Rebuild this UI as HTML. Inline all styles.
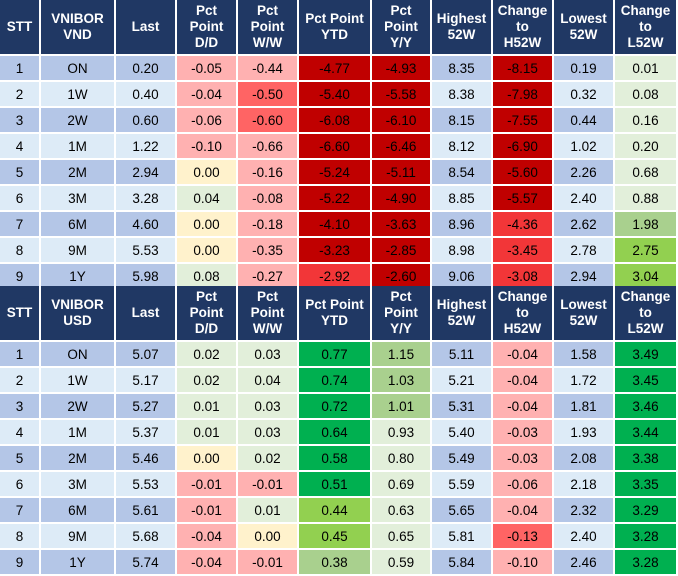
<!DOCTYPE html>
<html><head><meta charset="utf-8"><style>
body{margin:0;width:678px;height:576px;background:#fff;position:relative;overflow:hidden;font-family:"Liberation Sans",Arial,sans-serif}
.c{position:absolute;display:flex;align-items:center;justify-content:center;text-align:center;font-size:13.5px;color:#000;box-sizing:border-box}
.h{background:#203864;color:#fff;font-weight:bold;font-size:13.5px;line-height:16px}
</style></head><body>
<div id="t"></div>
<script>
const colEdges=[0,41,116,177,238,299,372,432,493,554,615,678];
const hdrVND=["STT","VNIBOR<br>VND","Last","Pct<br>Point<br>D/D","Pct<br>Point<br>W/W","Pct Point<br>YTD","Pct<br>Point<br>Y/Y","Highest<br>52W","Change<br>to<br>H52W","Lowest<br>52W","Change<br>to<br>L52W"];
const hdrUSD=hdrVND.slice();hdrUSD[1]="VNIBOR<br>USD";
const tenors=["ON","1W","2W","1M","2M","3M","6M","9M","1Y"];
const vnd=[
["0.20","-0.05","-0.44","-4.77","-4.93","8.35","-8.15","0.19","0.01"],
["0.40","-0.04","-0.50","-5.40","-5.58","8.38","-7.98","0.32","0.08"],
["0.60","-0.06","-0.60","-6.08","-6.10","8.15","-7.55","0.44","0.16"],
["1.22","-0.10","-0.66","-6.60","-6.46","8.12","-6.90","1.02","0.20"],
["2.94","0.00","-0.16","-5.24","-5.11","8.54","-5.60","2.26","0.68"],
["3.28","0.04","-0.08","-5.22","-4.90","8.85","-5.57","2.40","0.88"],
["4.60","0.00","-0.18","-4.10","-3.63","8.96","-4.36","2.62","1.98"],
["5.53","0.00","-0.35","-3.23","-2.85","8.98","-3.45","2.78","2.75"],
["5.98","0.08","-0.27","-2.92","-2.60","9.06","-3.08","2.94","3.04"]];
const vndCol=[
"_PPDD_D_L","_PRDD_D_L","_PRDD_D_L","_PPDD_D_L","_YPDD_D_L","_LPDD_D_L","_YPDD_M_A","_YPDD_M_Q","_LPMD_M_Q"];
const usd=[
["5.07","0.02","0.03","0.77","1.15","5.11","-0.04","1.58","3.49"],
["5.17","0.02","0.04","0.74","1.03","5.21","-0.04","1.72","3.45"],
["5.27","0.01","0.03","0.72","1.01","5.31","-0.04","1.81","3.46"],
["5.37","0.01","0.03","0.64","0.93","5.40","-0.03","1.93","3.44"],
["5.46","0.00","0.02","0.58","0.80","5.49","-0.03","2.08","3.38"],
["5.53","-0.01","-0.01","0.51","0.69","5.59","-0.06","2.18","3.35"],
["5.61","-0.01","0.01","0.44","0.63","5.65","-0.04","2.32","3.29"],
["5.68","-0.04","0.00","0.45","0.65","5.81","-0.13","2.40","3.28"],
["5.74","-0.04","-0.01","0.38","0.59","5.84","-0.10","2.46","3.28"]];
const usdCol=["_LLGA_P_G","_LLGA_P_G","_LLGA_P_G","_LLGL_P_G","_YLGL_P_G","_PPGL_P_G","_PLQL_P_G","_PYQL_R_G","_PPAL_P_G"];
const pal={P:"#ffb1b1",R:"#ff6464",D:"#c00000",M:"#f23638",Y:"#fff2cc",L:"#e2efda",G:"#00b050",Q:"#92d050",A:"#a9d08e"};
const T=document.getElementById('t');
function cell(x0,x1,y,h,html,cls,bg,name){
 const d=document.createElement('div');
 d.className='c '+cls;
 
 
 d.style.left=x0+'px';d.style.width=(x1-x0-2)+'px';d.style.top=y+'px';d.style.height=h+'px';
 if(bg)d.style.background=bg;
 d.innerHTML=html;T.appendChild(d);
}
function block(top,hdr,data,cols,tag){
 for(let c=0;c<11;c++)cell(colEdges[c],colEdges[c+1],top,54,hdr[c],'h',null,tag+'-header-cell');
 for(let r=0;r<9;r++){
  const y=top+56+26*r;const rb=r%2==0?"#b4c6e7":"#ddebf7";
  const vals=[String(r+1),tenors[r]].concat(data[r]);
  for(let c=0;c<11;c++){
   let bg=rb;
   if(c>=2){const k=cols[r][c-2];if(pal[k])bg=pal[k];}
   cell(colEdges[c],colEdges[c+1],y,24,vals[c],'',bg,tag+'-data-cell');
  }
 }
}
block(0,hdrVND,vnd,vndCol,'vnd');
block(286,hdrUSD,usd,usdCol,'usd');
</script>
</body></html>
